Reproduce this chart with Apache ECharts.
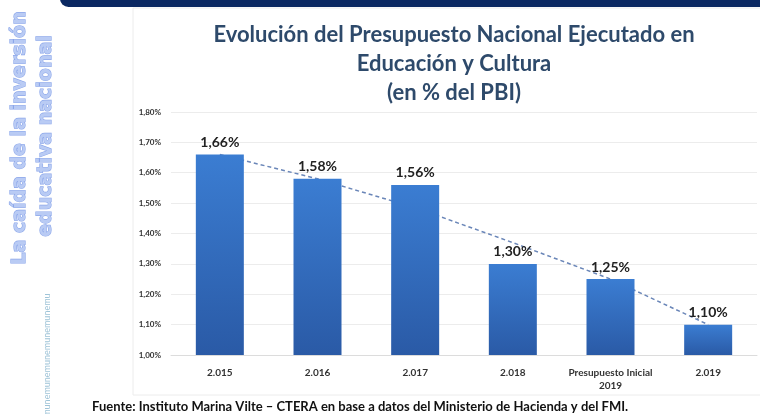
<!DOCTYPE html>
<html>
<head>
<meta charset="utf-8">
<script src="https://cdn.jsdelivr.net/npm/echarts@6/dist/echarts.min.js"></script>
<style>
  html, body { margin: 0; padding: 0; background: #fff; }
  #chart { width: 760px; height: 414px; }
</style>
</head>
<body>
<div id="chart"></div>
<script>
var categories = ['2.015', '2.016', '2.017', '2.018', 'Presupuesto Inicial\n2019', '2.019']
var values = [1.66, 1.58, 1.56, 1.30, 1.25, 1.10]
// dashed trend drawn by hand in the original
var trend = [1.66, 1.58, 1.485, 1.37, 1.25, 1.10]
var yTicks = { min: 1.0, max: 1.8, interval: 0.1 }

function pct(v) {
  return v.toFixed(2).replace('.', ',') + '%'
}

var chart = echarts.init(document.getElementById('chart'))

chart.setOption({
  animation: false,
  backgroundColor: '#fff',
  title: {
    text: 'Evolución del Presupuesto Nacional Ejecutado en\nEducación y Cultura\n(en % del PBI)',
    left: 449,
    top: 15,
    textAlign: 'center',
    textStyle: {
      fontFamily: 'Lato',
      fontWeight: 'bold',
      fontSize: 22,
      lineHeight: 29,
      color: '#2e4a6b'
    }
  },
  graphic: [
    {
      type: 'rect',
      shape: { x: 60, y: -10, width: 720, height: 17, r: 10 },
      style: { fill: '#0b2862' }
    },
    {
      type: 'rect',
      shape: { x: 133, y: 8, width: 640, height: 387 },
      style: { fill: 'none', stroke: '#ececec', lineWidth: 1 },
      z: -1
    },
    {
      type: 'text',
      x: 20, y: 138, rotation: Math.PI / 2,
      style: {
        text: 'La caída de la inversión',
        fontFamily: 'DejaVu Sans', fontWeight: 'bold', fontSize: 19,
        fill: '#b9cbf4', stroke: '#8ba6ea', lineWidth: 1.2,
        align: 'center', verticalAlign: 'middle'
      }
    },
    {
      type: 'text',
      x: 46, y: 136, rotation: Math.PI / 2,
      style: {
        text: 'educativa nacional',
        fontFamily: 'DejaVu Sans', fontWeight: 'bold', fontSize: 19,
        fill: '#b9cbf4', stroke: '#8ba6ea', lineWidth: 1.2,
        align: 'center', verticalAlign: 'middle'
      }
    },
    {
      type: 'text',
      x: 47, y: 360, rotation: Math.PI / 2,
      style: {
        text: 'nemunemunemunemunemunemu',
        fontFamily: 'Lato', fontSize: 9,
        fill: '#9fc4d8',
        align: 'center', verticalAlign: 'middle'
      }
    },
    {
      type: 'text',
      x: 92, y: 407,
      style: {
        text: 'Fuente: Instituto Marina Vilte – CTERA en base a datos del Ministerio de Hacienda y del FMI.',
        fontFamily: 'Lato', fontWeight: 'bold', fontSize: 13,
        fill: '#111',
        verticalAlign: 'middle'
      }
    }
  ],
  grid: {
    left: 171,
    right: 3,
    top: 112,
    bottom: 59
  },
  xAxis: {
    type: 'category',
    data: categories,
    axisLine: { lineStyle: { color: '#dcdcdc' } },
    axisTick: { show: false },
    axisLabel: {
      interval: 0,
      margin: 11,
      fontFamily: 'Lato',
      fontWeight: 'bold',
      fontSize: 10,
      lineHeight: 13,
      color: '#333'
    }
  },
  yAxis: {
    type: 'value',
    min: yTicks.min,
    max: yTicks.max,
    interval: yTicks.interval,
    axisLine: { show: false },
    axisTick: { show: false },
    splitLine: { lineStyle: { color: '#ececec' } },
    axisLabel: {
      margin: 10,
      fontFamily: 'Lato',
      fontWeight: 'bold',
      fontSize: 8,
      color: '#333',
      formatter: function (v) { return pct(v) }
    }
  },
  series: [
    {
      type: 'line',
      data: trend,
      z: 1,
      symbol: 'none',
      lineStyle: { color: '#6a86b8', width: 1.5, type: [4, 3] }
    },
    {
      type: 'bar',
      data: values,
      z: 3,
      barWidth: 48,
      itemStyle: {
        color: new echarts.graphic.LinearGradient(0, 0, 0, 1, [
          { offset: 0, color: '#3b7dd2' },
          { offset: 1, color: '#2a5aa6' }
        ])
      },
      label: {
        show: true,
        position: 'top',
        distance: 5,
        fontFamily: 'Lato',
        fontWeight: 'bold',
        fontSize: 14,
        color: '#222',
        formatter: function (p) { return pct(p.value) }
      }
    }
  ]
})
</script>
</body>
</html>
